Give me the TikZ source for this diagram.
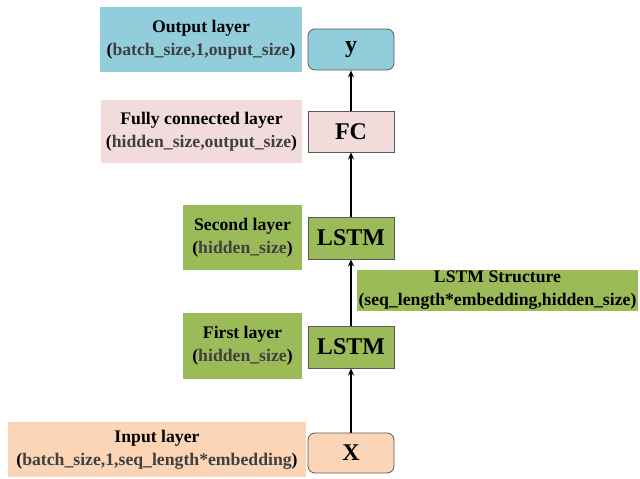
\documentclass[tikz,border=0pt]{standalone}
\usepackage{fontspec}
\setmainfont{Liberation Serif}
\usepackage{tikz}
\usetikzlibrary{arrows.meta}

\definecolor{outblue}{HTML}{92CDDC}
\definecolor{fcpink}{HTML}{F2DCDB}
\definecolor{lstmgreen}{HTML}{9BBB59}
\definecolor{inpeach}{HTML}{FBD5B5}
\definecolor{edgegray}{HTML}{595959}
\definecolor{dimtext}{HTML}{404040}

\newcommand{\dimline}[1]{(\textcolor{dimtext}{#1})}

\begin{document}
\begin{tikzpicture}[x=1pt,y=1pt,
  lbl/.style={fill=#1, inner sep=0pt, align=center, font=\fontsize{17.7}{23}\selectfont\bfseries},
  layer/.style={fill=#1, draw=edgegray, line width=0.8pt, minimum width=86pt, inner sep=0pt, font=\fontsize{24}{26}\selectfont\bfseries},
  flow/.style={-{Stealth[length=7pt,width=6pt]}, line width=1.3pt}]
\useasboundingbox (0,0) rectangle (640,479);
% layers
\node [layer=inpeach, rounded corners=7pt, minimum height=40pt] (x) at (351,26) {X};
\node [layer=lstmgreen, minimum height=42pt] (lstma) at (351,132) {LSTM};
\node [layer=lstmgreen, minimum height=42pt] (lstmb) at (351,241) {LSTM};
\node [layer=fcpink, minimum height=41pt] (fc) at (351,347.5) {FC};
\node [layer=outblue, rounded corners=7pt, minimum height=41pt] (y) at (351,429.5) {y};
% descriptions
\node [lbl=inpeach, minimum width=298pt, minimum height=55pt] (inlbl) at (157,29.5)
  {Input layer\\\dimline{batch\_size,1,seq\_length*embedding}};
\node [lbl=lstmgreen, minimum width=119pt, minimum height=66pt] (firstlbl) at (242.5,133)
  {First layer\\\dimline{hidden\_size}};
\node [lbl=lstmgreen, minimum width=281pt, minimum height=41pt] (structlbl) at (497.5,188.5)
  {LSTM Structure\\(seq\_length*embedding,hidden\_size)};
\node [lbl=lstmgreen, minimum width=119pt, minimum height=65pt] (secondlbl) at (242.5,241.5)
  {Second layer\\\dimline{hidden\_size}};
\node [lbl=fcpink, minimum width=201pt, minimum height=63pt] (fclbl) at (201.5,347.5)
  {Fully connected layer\\\dimline{hidden\_size,output\_size}};
\node [lbl=outblue, minimum width=202pt, minimum height=65pt] (outlbl) at (201,439.5)
  {Output layer\\\dimline{batch\_size,1,ouput\_size}};
% arrows
\draw [flow] (x) -- (lstma);
\draw [flow] (lstma) -- (lstmb);
\draw [flow] (lstmb) -- (fc);
\draw [flow] (fc) -- (y);
\end{tikzpicture}
\end{document}
